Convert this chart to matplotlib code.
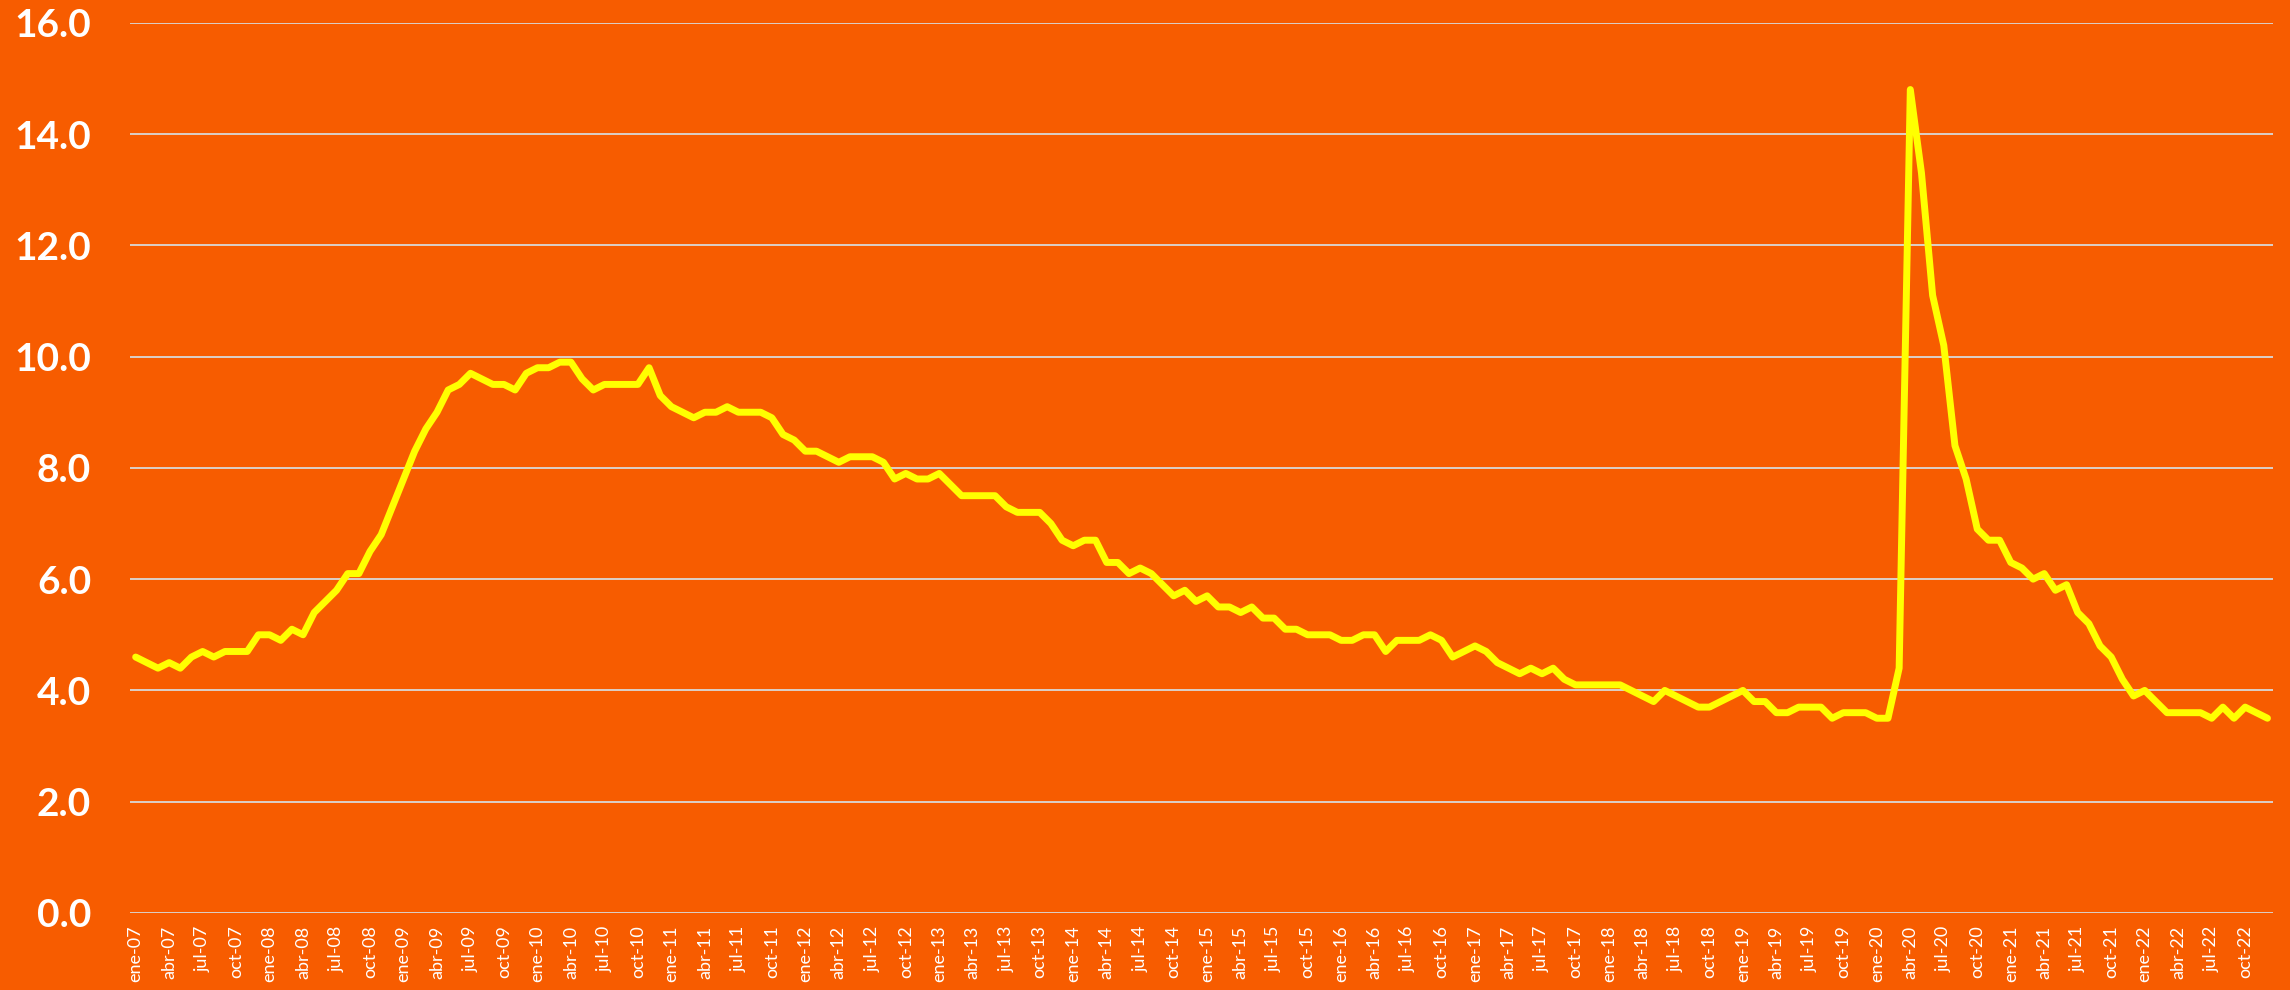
import matplotlib
matplotlib.use('Agg')
import matplotlib.pyplot as plt
import numpy as np

# tasa de desempleo mensual (%), enero 2007 - diciembre 2022
t2007 = [4.6, 4.5, 4.4, 4.5, 4.4, 4.6, 4.7, 4.6, 4.7, 4.7, 4.7, 5.0]
t2008 = [5.0, 4.9, 5.1, 5.0, 5.4, 5.6, 5.8, 6.1, 6.1, 6.5, 6.8, 7.3]
t2009 = [7.8, 8.3, 8.7, 9.0, 9.4, 9.5, 9.7, 9.6, 9.5, 9.5, 9.4, 9.7]
t2010 = [9.8, 9.8, 9.9, 9.9, 9.6, 9.4, 9.5, 9.5, 9.5, 9.5, 9.8, 9.3]
t2011 = [9.1, 9.0, 8.9, 9.0, 9.0, 9.1, 9.0, 9.0, 9.0, 8.9, 8.6, 8.5]
t2012 = [8.3, 8.3, 8.2, 8.1, 8.2, 8.2, 8.2, 8.1, 7.8, 7.9, 7.8, 7.8]
t2013 = [7.9, 7.7, 7.5, 7.5, 7.5, 7.5, 7.3, 7.2, 7.2, 7.2, 7.0, 6.7]
t2014 = [6.6, 6.7, 6.7, 6.3, 6.3, 6.1, 6.2, 6.1, 5.9, 5.7, 5.8, 5.6]
t2015 = [5.7, 5.5, 5.5, 5.4, 5.5, 5.3, 5.3, 5.1, 5.1, 5.0, 5.0, 5.0]
t2016 = [4.9, 4.9, 5.0, 5.0, 4.7, 4.9, 4.9, 4.9, 5.0, 4.9, 4.6, 4.7]
t2017 = [4.8, 4.7, 4.5, 4.4, 4.3, 4.4, 4.3, 4.4, 4.2, 4.1, 4.1, 4.1]
t2018 = [4.1, 4.1, 4.0, 3.9, 3.8, 4.0, 3.9, 3.8, 3.7, 3.7, 3.8, 3.9]
t2019 = [4.0, 3.8, 3.8, 3.6, 3.6, 3.7, 3.7, 3.7, 3.5, 3.6, 3.6, 3.6]
t2020 = [3.5, 3.5, 4.4, 14.8, 13.3, 11.1, 10.2, 8.4, 7.8, 6.9, 6.7, 6.7]
t2021 = [6.3, 6.2, 6.0, 6.1, 5.8, 5.9, 5.4, 5.2, 4.8, 4.6, 4.2, 3.9]
t2022 = [4.0, 3.8, 3.6, 3.6, 3.6, 3.6, 3.5, 3.7, 3.5, 3.7, 3.6, 3.5]

anios = list(range(2007, 2023))
meses = ['ene', 'feb', 'mar', 'abr', 'may', 'jun',
         'jul', 'ago', 'sep', 'oct', 'nov', 'dic']

tasa = np.array(t2007 + t2008 + t2009 + t2010 + t2011 + t2012 + t2013 + t2014
                + t2015 + t2016 + t2017 + t2018 + t2019 + t2020 + t2021 + t2022)
etiquetas = [f'{m}-{a % 100:02d}' for a in anios for m in meses]

naranja = '#F75C00'
plt.rcParams['font.family'] = ['Lato', 'DejaVu Sans']

fig = plt.figure(figsize=(22.9, 9.9), dpi=100, facecolor=naranja)
ax = fig.add_axes([0.0568, 0.0778, 0.9358, 0.8992])
ax.set_facecolor(naranja)

x = np.arange(len(tasa))
ax.plot(x, tasa, color='#FFFF00', linewidth=5, solid_joinstyle='round',
        solid_capstyle='round', zorder=3)

ax.set_xlim(-0.5, len(tasa) - 0.5)
ax.set_ylim(0, 16)
ax.set_yticks(np.arange(0, 17, 2))
ax.set_yticklabels([f'{v:.1f}' for v in np.arange(0, 17, 2)],
                   fontsize=28, fontweight='bold', color='white')
ax.tick_params(axis='y', length=0, pad=28)

ax.set_xticks(x[::3])
ax.set_xticklabels(etiquetas[::3], rotation=90, fontsize=13, color='white')
ax.tick_params(axis='x', length=0, pad=9)

ax.grid(axis='y', color='#D9D9D9', linewidth=1.3, zorder=1)
for s in ax.spines.values():
    s.set_visible(False)

fig.savefig('out.png', dpi=100, facecolor=naranja)
